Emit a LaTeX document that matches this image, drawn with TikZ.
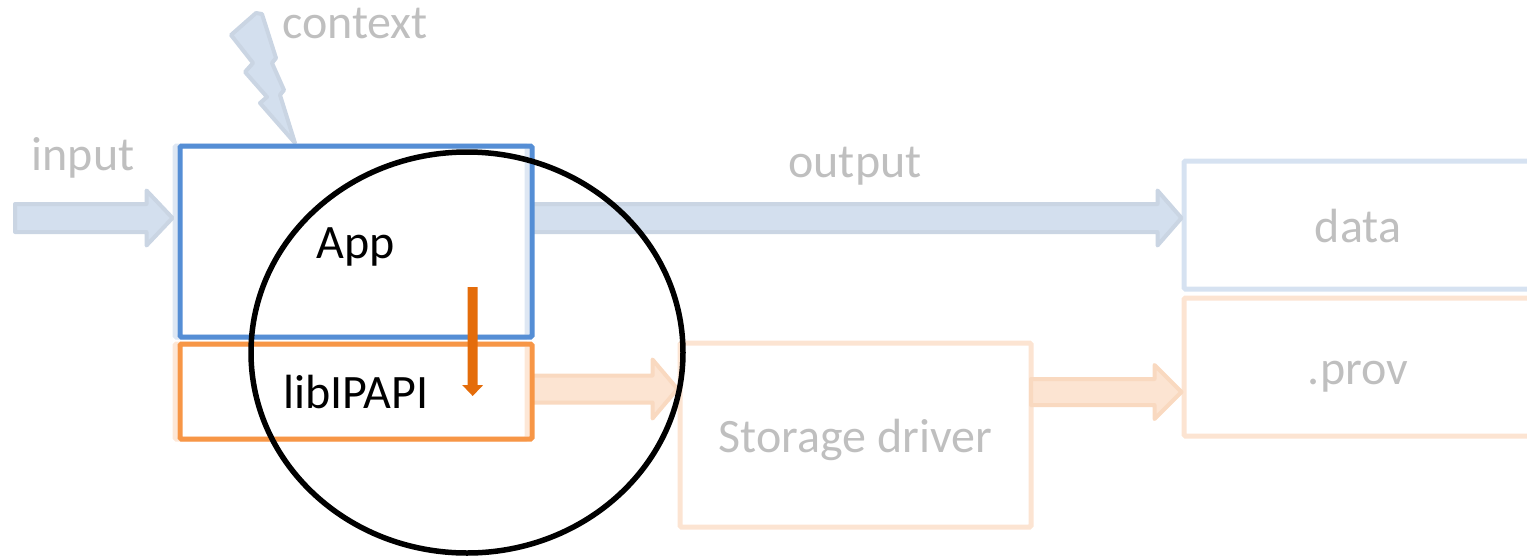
\documentclass[tikz,border=0pt]{standalone}
\usepackage{fontspec}
\setmainfont{Carlito}
\usetikzlibrary{calc}

\definecolor{appblue}{RGB}{85,142,213}
\definecolor{liborange}{RGB}{247,150,70}
\definecolor{calldark}{RGB}{228,108,10}
\definecolor{fadeblue}{RGB}{214,226,241}
\definecolor{fadeorange}{RGB}{252,228,210}
\definecolor{flowblue}{RGB}{211,223,238}
\definecolor{flowblueedge}{RGB}{202,213,227}
\definecolor{floworange}{RGB}{252,228,210}
\definecolor{floworangeedge}{RGB}{249,217,192}
\definecolor{labelgray}{RGB}{191,191,191}
\definecolor{shadowblue}{RGB}{222,231,243}
\definecolor{shadoworange}{RGB}{253,231,214}

\newcommand\diagfont{\fontsize{48}{56}\selectfont}

% horizontal block arrow: style, start, tip, half shaft, half head, head length
\newcommand\flowarrow[6]{%
  \path[#1] let \p1=(#2), \p2=(#3) in
    (\x1,\y1+#4) -- (\x2-#6,\y1+#4) -- (\x2-#6,\y1+#5) -- (\x2,\y1)
    -- (\x2-#6,\y1-#5) -- (\x2-#6,\y1-#4) -- (\x1,\y1-#4) -- cycle;}

\tikzset{
  box/.style={rectangle, draw, line width=5pt, rounded corners=1.5pt,
    inner sep=0pt, text height=34pt, text depth=0pt, font=\diagfont},
  fadedbox/.style={box, text=labelgray},
  label/.style={font=\diagfont, text=labelgray, anchor=base, inner sep=0pt},
  blueflow/.style={fill=flowblue, draw=flowblueedge, line width=4pt, line join=round},
  orangeflow/.style={fill=floworange, draw=floworangeedge, line width=4pt, line join=round},
  bolt/.style={fill=flowblue, draw=flowblueedge, line width=4pt, line join=round},
  callout/.style={fill=calldark, draw=none},
  scope ring/.style={draw=black, line width=5.5pt},
}

\begin{document}
\begin{tikzpicture}[x=1pt, y=-1pt]
  \useasboundingbox (0,0) rectangle (1527,558);
  \clip (0,0) rectangle (1527,558);

  % stored outputs and the storage driver
  \node[fadedbox, draw=fadeblue, minimum width=348pt, minimum height=128pt] (data) at (1358,225) {data};
  \node[fadedbox, draw=fadeorange, minimum width=348pt, minimum height=138pt] (prov) at (1358,367) {.prov};
  \node[fadedbox, draw=fadeorange, minimum width=351pt, minimum height=184pt] (store) at (855.5,435) {Storage driver};

  % faint offset outlines behind the application stack
  \node[box, draw=shadowblue, minimum width=352pt, minimum height=191pt] (appshade) at (351,241.5) {};
  \node[box, draw=shadoworange, minimum width=352pt, minimum height=95pt] (libshade) at (351,391.5) {};

  % flow anchors
  \coordinate (inStart) at (15,218);
  \coordinate (ctxTop) at (256,13);

  % data flow arrows
  \flowarrow{blueflow}{inStart}{inStart -| appshade.west}{14pt}{27.5pt}{26pt}
  \flowarrow{blueflow}{inStart -| 532,0}{inStart -| data.west}{14pt}{27.5pt}{24pt}

  % provenance flow arrows
  \coordinate (provA) at (532,389);
  \coordinate (provB) at (1031,392);
  \flowarrow{orangeflow}{provA}{provA -| store.west}{13.5pt}{29.5pt}{25pt}
  \flowarrow{orangeflow}{provB}{provB -| prov.west}{13pt}{27pt}{27pt}

  % context lightning bolt
  \path[bolt] (ctxTop) -- (231,35) -- (253,63) -- (245,72) -- (267,97) -- (260,103)
    -- (295,143) -- (280,95) -- (284,90) -- (272,63) -- (276,58) -- (262,14) -- cycle;

  % application and library
  \node[box, draw=appblue, minimum width=352pt, minimum height=191pt] (app) at (356,241.5) {App};
  \node[box, draw=liborange, minimum width=352pt, minimum height=95pt] (lib) at (356,391.5) {libIPAPI};

  % call from the application into the library
  \coordinate (callTop) at (472.7,287);
  \coordinate (callTip) at (472.7,396);
  \path[callout] let \p1=(callTop), \p2=(callTip) in
    (\x1-5pt,\y1) -- (\x1+5pt,\y1) -- (\x1+5pt,\y2+11pt) -- (\x1+10.5pt,\y2+11pt)
    -- (\x2,\y2) -- (\x1-10.5pt,\y2+11pt) -- (\x1-5pt,\y2+11pt) -- cycle;

  % instrumented scope
  \draw[scope ring] (467,352.5) ellipse [x radius=216pt, y radius=200.5pt];

  % flow labels
  \node[label] (ctxLabel) at (355,38) {context};
  \node[label] (inLabel) at (83,170) {input};
  \node[label] (outLabel) at (855,177) {output};
\end{tikzpicture}
\end{document}
